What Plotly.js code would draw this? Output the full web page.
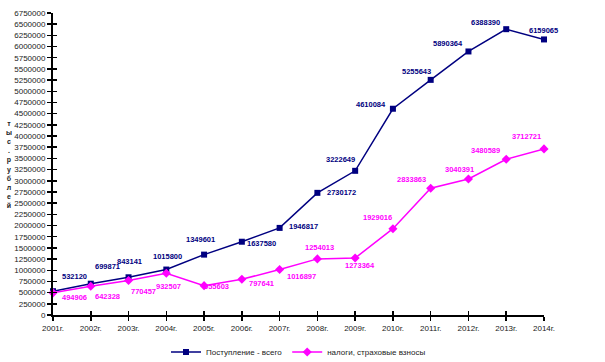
<!DOCTYPE html>
<html>
<head>
<meta charset="utf-8">
<script src="https://cdn.plot.ly/plotly-3.0.1.min.js"></script>
<style>html,body{margin:0;padding:0;background:#fff;}#chart{width:605px;height:362px;}</style>
</head>
<body>
<div id="chart"></div>
<script>
const years = ["2001г.","2002г.","2003г.","2004г.","2005г.","2006г.","2007г.","2008г.","2009г.","2010г.","2011г.","2012г.","2013г.","2014г."];
const totalName = "Поступление - всего";
const taxName = "налоги, страховые взносы";
const totalValues = [532120, 699871, 843141, 1015800, 1349601, 1637580, 1946817, 2730172, 3222649, 4610084, 5255643, 5890364, 6388390, 6159065];
const taxValues = [494906, 642328, 770457, 932507, 655603, 797641, 1016897, 1254013, 1273364, 1929016, 2833863, 3040391, 3480589, 3712721];
const yTicks = [];
for (let v = 0; v <= 6750000; v += 250000) yTicks.push(v);

// label placement (anchor, dx px, dy px downward) — style only
const totalLabelPlace = [["left",7,-15],["left",2,-17],["center",1,-16],["center",1,-13],["center",-4,-15],["left",3,2],["left",7,-1],["left",8,0],["right",2,-11],["right",-5,-4],["right",2,-8],["right",-3,-8],["right",-4,-7],["center",-1,-9]];
const taxLabelPlace = [["left",7,5],["left",2,10],["left",0,11],["center",2,13],["left",-2,1],["left",5,4],["left",5,7],["center",2,-11],["center",5,7],["right",1,-11],["right",-3,-9],["right",8,-9],["right",-4,-9],["right",-1,-12]];

const navy = "#000080", pink = "#FF00FF";
const font = "Liberation Sans, Arial, sans-serif";

const traces = [
  {
    x: years, y: totalValues, name: totalName, type: "scatter", mode: "lines+markers",
    line: {color: navy, width: 1.5}, marker: {symbol: "square", size: 6, color: navy}, cliponaxis: false
  },
  {
    x: years, y: taxValues, name: taxName, type: "scatter", mode: "lines+markers",
    line: {color: pink, width: 1.5}, marker: {symbol: "diamond", size: 7, color: pink}, cliponaxis: false
  },
  {x: years, y: totalValues, xaxis: "x2", yaxis: "y2", type: "scatter", mode: "none",
   showlegend: false, hoverinfo: "skip"}
];

function labels(values, place, color) {
  return values.map((v, i) => ({
    x: years[i], y: v, xref: "x", yref: "y", text: String(v), showarrow: false,
    xanchor: place[i][0], yanchor: "middle", xshift: place[i][1], yshift: -place[i][2],
    font: {family: font, size: 7.5, color: color, weight: "bold"}
  }));
}

const annotations = labels(totalValues, totalLabelPlace, navy)
  .concat(labels(taxValues, taxLabelPlace, pink))
  .concat([{
    text: "т<br>ы<br>с<br>.<br>р<br>у<br>б<br>л<br>е<br>й",
    xref: "paper", yref: "paper", x: -0.0896, y: 0.497, xanchor: "center", yanchor: "middle",
    showarrow: false, font: {size: 7, color: "#222", weight: "bold"}
  }]);

const layout = {
  width: 605, height: 362,
  margin: {l: 53, r: 61, t: 13, b: 47, autoexpand: false},
  paper_bgcolor: "#fff", plot_bgcolor: "#fff",
  font: {family: font, size: 8, color: "#222"},
  showlegend: true,
  legend: {orientation: "h", x: 0.5, xanchor: "center", y: -0.1225, yanchor: "middle",
           font: {size: 8, color: "#222"}, itemwidth: 30, tracegroupgap: 0, bgcolor: "rgba(0,0,0,0)"},
  xaxis: {
    type: "category", range: [0, 13], showgrid: false, zeroline: false,
    showline: true, linecolor: "#000", linewidth: 2,
    ticks: "outside", ticklen: 4, tickwidth: 1.5, tickcolor: "#000",
    tickfont: {size: 8, color: "#222"}, fixedrange: true
  },
  xaxis2: {
    type: "category", range: [0, 13], overlaying: "x", anchor: "y", side: "bottom",
    showgrid: false, zeroline: false, showticklabels: false,
    ticks: "inside", ticklen: 4, tickwidth: 1.5, tickcolor: "#000"
  },
  yaxis: {
    range: [0, 6750000], tickvals: yTicks, ticktext: yTicks.map(String),
    showgrid: false, zeroline: false, showline: true, linecolor: "#000", linewidth: 2,
    ticks: "outside", ticklen: 4, tickwidth: 1.5, tickcolor: "#000",
    tickfont: {size: 8, color: "#222"}, fixedrange: true
  },
  yaxis2: {
    range: [0, 6750000], tickvals: yTicks, overlaying: "y", anchor: "x", side: "left",
    showgrid: false, zeroline: false, showticklabels: false,
    ticks: "inside", ticklen: 4, tickwidth: 1.5, tickcolor: "#000"
  },
  annotations: annotations
};

Plotly.newPlot("chart", traces, layout, {displayModeBar: false, staticPlot: true});
</script>
</body>
</html>
